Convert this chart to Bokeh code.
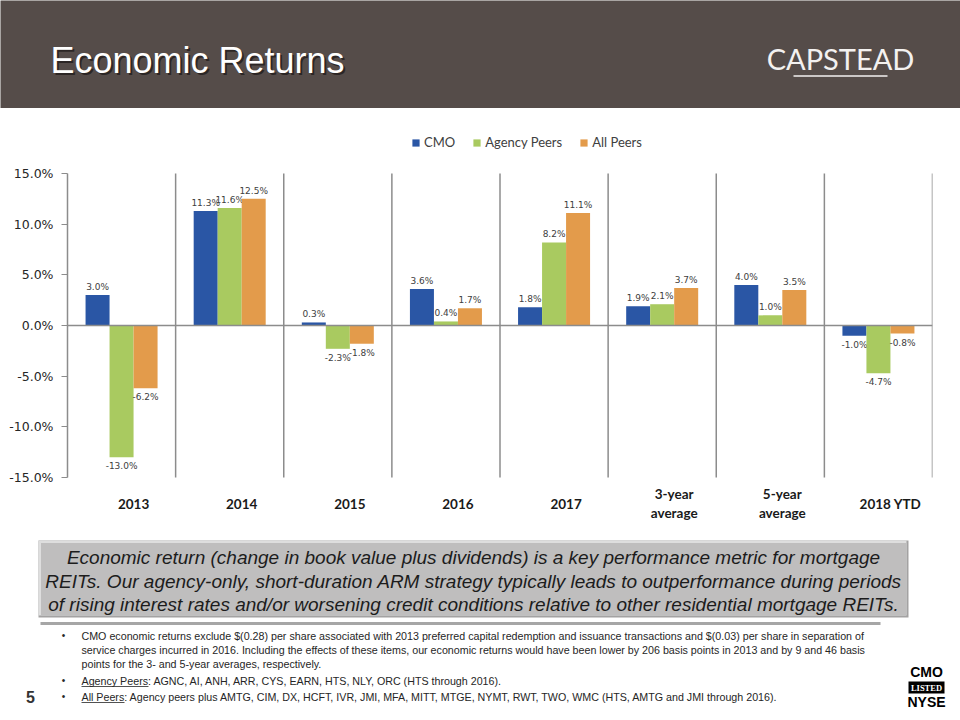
from bokeh.plotting import figure
from bokeh.models import (ColumnDataSource, FactorRange, Range1d, Span, FixedTicker,
                          PrintfTickFormatter)
from bokeh.layouts import column
from bokeh.transform import dodge
from bokeh.core.properties import value
from bokeh.embed import file_html
from bokeh.resources import INLINE

# ---------------- data ----------------
categories = ["2013", "2014", "2015", "2016", "2017",
              "3-year average", "5-year average", "2018 YTD"]
category_labels = ["2013", "2014", "2015", "2016", "2017",
                   "3-year\naverage", "5-year\naverage", "2018 YTD"]
series_names = ["CMO", "Agency Peers", "All Peers"]
cmo = [3.0, 11.3, 0.3, 3.6, 1.8, 1.9, 4.0, -1.0]
agency_peers = [-13.0, 11.6, -2.3, 0.4, 8.2, 2.1, 1.0, -4.7]
all_peers = [-6.2, 12.5, -1.8, 1.7, 11.1, 3.7, 3.5, -0.8]
y_ticks = [-15, -10, -5, 0, 5, 10, 15]

title_text = "Economic Returns"
logo_text = "CAPSTEAD"
callout_lines = [
    "Economic return (change in book value plus dividends) is a key performance metric for mortgage",
    "REITs. Our agency-only, short-duration ARM strategy typically leads to outperformance during periods",
    "of rising interest rates and/or worsening credit conditions relative to other residential mortgage REITs.",
]
footnote_lines = [
    "CMO  economic returns exclude $(0.28) per share associated with 2013 preferred capital redemption and issuance transactions and $(0.03) per share in separation of",
    "service charges incurred in 2016. Including the effects of these items, our economic returns would have been lower by 206 basis points in 2013 and by 9 and 46 basis",
    "points  for the 3- and 5-year averages, respectively.",
    "Agency Peers: AGNC, AI, ANH, ARR, CYS, EARN, HTS,  NLY, ORC (HTS through 2016).",
    "All Peers: Agency peers plus AMTG, CIM,  DX,  HCFT,  IVR, JMI,  MFA, MITT,  MTGE,  NYMT, RWT, TWO, WMC (HTS, AMTG and JMI through 2016).",
]
page_number = "5"

# ---------------- styles ----------------
W = 960
colors = ["#2a56a5", "#a9ca60", "#e39b4b"]
grey = "#8c8c8c"
bar_w = 0.222
offsets = [-bar_w, 0.0, bar_w]


def bare(p, bg="white"):
    p.outline_line_color = None
    p.background_fill_color = bg
    p.border_fill_color = bg
    p.grid.grid_line_color = None
    return p


# ---------------- header ----------------
header = figure(width=W, height=108, x_range=Range1d(0, 960), y_range=Range1d(108, 0),
                output_backend="svg", toolbar_location=None, frame_align=False,
                x_axis_location=None, y_axis_location=None, min_border=0)
bare(header, "#554c49")
header.text(x=[52], y=[61.5], text=[title_text], text_color="#1a1615", text_alpha=0.7,
            text_font=value("Liberation Sans"), text_font_size="36px",
            text_baseline="middle")
header.text(x=[50], y=[59.5], text=[title_text], text_color="white",
            text_font=value("Liberation Sans"), text_font_size="36px",
            text_baseline="middle")
header.text(x=[840], y=[57.5], text=[logo_text], text_color="#f3f1f0",
            text_font=value("Lato"), text_font_size="29px", text_align="center",
            text_baseline="middle")
header.segment(x0=[793], y0=[75.5], x1=[887], y1=[75.5], line_color="#f3f1f0",
               line_width=1.5)

# ---------------- chart ----------------
chart = figure(width=W, height=422, x_range=FactorRange(*categories),
               y_range=Range1d(-20.23, 19.44), output_backend="svg",
               toolbar_location=None, x_axis_location=None, frame_align=False,
               min_border_left=67, min_border_right=28, min_border_top=20,
               min_border_bottom=0)
bare(chart)

chart.add_layout(Span(location=0, dimension="width", line_color=grey, line_width=1.5))

sep_src = ColumnDataSource(dict(cat=categories))
chart.segment(x0=dodge("cat", 0.5, range=chart.x_range), y0=y_ticks[0],
              x1=dodge("cat", 0.5, range=chart.x_range), y1=y_ticks[-1],
              source=sep_src, line_color=grey, line_width=1.5)

for name, vals, col, off in zip(series_names, [cmo, agency_peers, all_peers], colors, offsets):
    src = ColumnDataSource(dict(
        cat=categories, val=vals,
        lbl=[f"{v:.1f}%" for v in vals],
        base=["bottom" if v >= 0 else "top" for v in vals],
        yoff=[-3 if v >= 0 else 4 for v in vals],
    ))
    chart.vbar(x=dodge("cat", off, range=chart.x_range), top="val", bottom=0,
               width=bar_w, source=src, fill_color=col, line_color=None,
               legend_label=name)
    chart.text(x=dodge("cat", off, range=chart.x_range), y="val", text="lbl",
               source=src, text_align="center", text_baseline="base", y_offset="yoff",
               text_font=value("DejaVu Sans"), text_font_size="9px",
               text_color="#404040")

cat_src = ColumnDataSource(dict(cat=categories, label=category_labels))
chart.text(x="cat", y=-17.6, text="label", source=cat_src, x_offset=12,
           text_align="center", text_baseline="middle", text_font=value("Lato"),
           text_font_style="bold", text_font_size="13.5px", text_color="#1a1a1a",
           text_line_height=1.2)

yax = chart.yaxis[0]
yax.ticker = FixedTicker(ticks=y_ticks)
yax.formatter = PrintfTickFormatter(format="%.1f%%")
yax.bounds = (y_ticks[0], y_ticks[-1])
yax.axis_line_color = grey
yax.axis_line_width = 1.5
yax.major_tick_line_color = grey
yax.major_tick_out = 6
yax.major_tick_in = 0
yax.minor_tick_line_color = None
yax.major_label_standoff = 8
yax.major_label_text_font = "DejaVu Sans"
yax.major_label_text_font_size = "12.5px"
yax.major_label_text_color = "#262626"

leg = chart.legend[0]
leg.location = (344, 380)
leg.orientation = "horizontal"
leg.label_text_font = "Lato"
leg.label_text_font_size = "13px"
leg.label_text_color = "#404040"
leg.glyph_width = 9
leg.glyph_height = 9
leg.label_height = 9
leg.label_standoff = 4
leg.spacing = 17
leg.padding = 0
leg.margin = 0
leg.border_line_color = None
leg.background_fill_alpha = 0

# ---------------- bottom ----------------
bottom = figure(width=W, height=190, x_range=Range1d(0, 960), y_range=Range1d(720, 530),
                output_backend="svg", toolbar_location=None, frame_align=False,
                x_axis_location=None, y_axis_location=None, min_border=0)
bare(bottom)
bottom.quad(left=[38], right=[908], top=[540], bottom=[617], fill_color="#a3a2a2",
            line_color=None)
bottom.quad(left=[38], right=[906], top=[540], bottom=[615], fill_color="#dedede",
            line_color=None)
bottom.quad(left=[40.5], right=[905.5], top=[542.5], bottom=[614.5], fill_color="#bfbebe",
            line_color=None)
bottom.text(x=[473] * 3, y=[557, 581, 604], text=callout_lines, text_align="center",
            text_baseline="middle", text_font=value("Liberation Sans"),
            text_font_style="italic", text_font_size="19px", text_color="#1c1c1c")

bottom.segment(x0=[40], y0=[623], x1=[880], y1=[623], line_color="#a6a6a6", line_width=3)

foot_y = [635, 649.5, 663, 680, 696]
bottom.text(x=[81] * 5, y=foot_y, text=footnote_lines, text_baseline="middle",
            text_font=value("Liberation Sans"), text_font_size="10.7px",
            text_color="#262626")
bottom.text(x=[63] * 3, y=[foot_y[0], foot_y[3], foot_y[4]], text=["•"] * 3,
            text_align="center", text_baseline="middle",
            text_font=value("Liberation Sans"), text_font_size="10px",
            text_color="#262626")
bottom.segment(x0=[81, 81], y0=[foot_y[3] + 6, foot_y[4] + 6],
               x1=[148, 124], y1=[foot_y[3] + 6, foot_y[4] + 6],
               line_color="#262626", line_width=0.8)
bottom.text(x=[30], y=[696], text=[page_number], text_align="center",
            text_baseline="middle", text_font=value("Liberation Sans"),
            text_font_style="bold", text_font_size="16px", text_color="#333333")

# NYSE listing mark
bottom.text(x=[926], y=[671], text=["CMO"], text_align="center", text_baseline="middle",
            text_font=value("Liberation Sans"), text_font_style="bold",
            text_font_size="14px", text_color="black")
bottom.quad(left=[908], right=[944], top=[681], bottom=[693], fill_color="black",
            line_color=None)
bottom.text(x=[926], y=[687.5], text=["LISTED"], text_align="center",
            text_baseline="middle", text_font=value("Liberation Serif"),
            text_font_style="bold", text_font_size="8.5px", text_color="white")
bottom.text(x=[926], y=[701], text=["NYSE"], text_align="center", text_baseline="middle",
            text_font=value("Liberation Sans"), text_font_style="bold",
            text_font_size="14px", text_color="black")

layout = column(header, chart, bottom, spacing=0)
open("out.html", "w").write(file_html(layout, INLINE))
